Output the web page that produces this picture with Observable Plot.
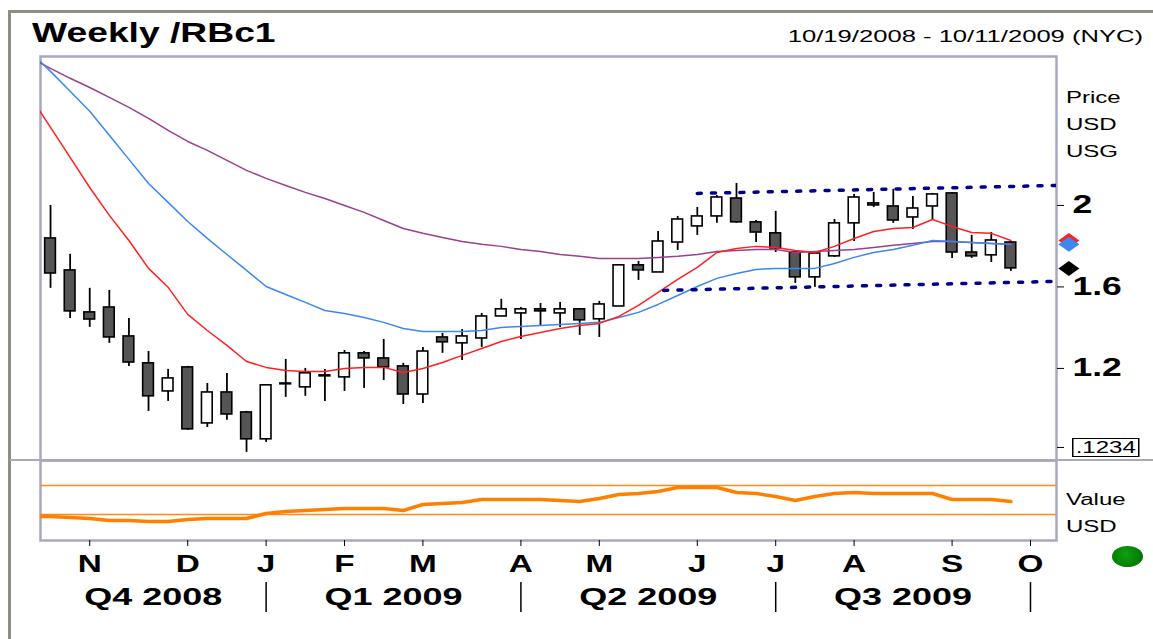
<!DOCTYPE html>
<html><head><meta charset="utf-8">
<script src="https://cdn.jsdelivr.net/npm/d3@7"></script>
<script src="https://cdn.jsdelivr.net/npm/@observablehq/plot@0.6"></script>
<style>
body{margin:0;background:#fff;font-family:"Liberation Sans",Arial,sans-serif;}
#wrap{position:relative;width:1153px;height:639px;overflow:hidden;background:#fff;}
.abs{position:absolute;white-space:nowrap;}
.ln{position:absolute;}
</style></head><body><div id="wrap"></div>
<script>
// ---------------- data ----------------
const weeks = ["2008-10-19","2008-10-26","2008-11-02","2008-11-09","2008-11-16","2008-11-23","2008-11-30",
"2008-12-07","2008-12-14","2008-12-21","2008-12-28","2009-01-04","2009-01-11","2009-01-18","2009-01-25",
"2009-02-01","2009-02-08","2009-02-15","2009-02-22","2009-03-01","2009-03-08","2009-03-15","2009-03-22","2009-03-29",
"2009-04-05","2009-04-12","2009-04-19","2009-04-26","2009-05-03","2009-05-10","2009-05-17","2009-05-24","2009-05-31",
"2009-06-07","2009-06-14","2009-06-21","2009-06-28","2009-07-05","2009-07-12","2009-07-19","2009-07-26",
"2009-08-02","2009-08-09","2009-08-16","2009-08-23","2009-08-30","2009-09-06","2009-09-13","2009-09-20","2009-09-27"];
const open  = [1.838,1.681,1.475,1.499,1.357,1.225,1.087,1.205,0.930,1.082,0.984,0.852,1.126,1.107,1.166,1.156,1.274,1.249,1.210,1.072,
1.352,1.323,1.347,1.455,1.470,1.490,1.470,1.490,1.441,1.504,1.706,1.671,1.818,1.897,1.946,2.034,1.917,1.863,1.769,1.647,
1.750,1.912,2.010,1.995,1.941,1.995,2.059,1.769,1.755,1.818];
const high  = [2.000,1.760,1.593,1.583,1.445,1.283,1.195,1.210,1.126,1.175,0.989,1.117,1.244,1.200,1.195,1.288,1.283,1.342,1.225,1.303,
1.372,1.391,1.470,1.539,1.499,1.519,1.524,1.490,1.529,1.706,1.725,1.872,1.946,1.990,2.049,2.108,1.926,1.971,1.774,1.764,
1.931,2.054,2.064,2.079,2.044,2.059,2.064,1.853,1.867,1.823];
const low   = [1.593,1.445,1.401,1.323,1.210,0.989,1.038,0.896,0.910,0.945,0.788,0.837,1.058,1.063,1.038,1.087,1.102,1.141,1.023,1.028,
1.274,1.239,1.303,1.455,1.342,1.406,1.401,1.362,1.352,1.504,1.632,1.671,1.779,1.853,1.912,1.912,1.818,1.769,1.617,1.598,
1.745,1.823,1.990,1.912,1.882,1.926,1.740,1.740,1.720,1.676];
const close = [1.666,1.480,1.440,1.352,1.229,1.063,1.151,0.901,1.082,0.974,0.852,1.117,1.122,1.176,1.161,1.274,1.249,1.205,1.072,1.283,
1.328,1.357,1.455,1.490,1.490,1.480,1.490,1.436,1.514,1.706,1.681,1.823,1.931,1.946,2.039,1.917,1.867,1.789,1.647,1.764,
1.912,2.039,2.000,1.926,1.985,2.054,1.769,1.750,1.828,1.691];

// moving averages (first point = week before the window)
const maDates = ["2008-10-12", ...weeks];
const maShort = [2.530,2.383,2.236,2.088,1.951,1.828,1.691,1.598,1.465,1.386,1.313,1.234,1.205,1.190,1.185,1.185,1.200,1.205,1.205,1.180,
1.200,1.229,1.264,1.298,1.332,1.357,1.376,1.396,1.411,1.421,1.455,1.509,1.573,1.637,1.696,1.769,1.789,1.799,1.794,1.779,
1.769,1.799,1.838,1.872,1.887,1.892,1.931,1.897,1.867,1.863,1.828];
const maMid = [2.751,2.658,2.560,2.462,2.344,2.226,2.108,2.015,1.921,1.838,1.759,1.681,1.602,1.563,1.524,1.484,1.470,1.450,1.426,1.396,
1.381,1.381,1.381,1.386,1.401,1.406,1.411,1.416,1.421,1.426,1.450,1.475,1.514,1.558,1.602,1.642,1.666,1.686,1.691,1.691,
1.691,1.715,1.745,1.769,1.784,1.804,1.828,1.823,1.818,1.813,1.809];
const maLong = [2.722,2.673,2.624,2.579,2.530,2.481,2.427,2.368,2.314,2.270,2.221,2.172,2.133,2.098,2.064,2.034,2.000,1.966,1.926,1.887,
1.863,1.843,1.823,1.809,1.799,1.784,1.774,1.759,1.750,1.740,1.740,1.740,1.745,1.750,1.759,1.774,1.779,1.784,1.784,1.769,
1.774,1.779,1.784,1.794,1.804,1.813,1.823,1.823,1.818,1.813,1.809];

// channel lines
const upperDates = ["2009-06-07","2009-10-13"], upperVals = [2.059, 2.098];
const lowerDates = ["2009-05-26","2009-10-13"], lowerVals = [1.583, 1.627];

// lower indicator panel
const indicator = [24,24,23,22,20,20,19,19,21,22,22,22,27,29,30,31,32,32,32,30,36,37,38,41,41,41,41,40,39,42,46,
47,49,53,53,53,48,47,44,40,44,47,48,47,47,47,47,41,41,41,39];
const indicatorBands = [55, 26];

// axes
const yTicks = [2, 1.6, 1.2];
const lastQuoteTick = 0.812;
const monthTicks = ["2008-11-02","2008-12-07","2009-01-04","2009-02-01","2009-03-01","2009-04-05","2009-05-03",
"2009-06-07","2009-07-05","2009-08-02","2009-09-06","2009-10-04"];
const quarterBounds = ["2009-01-04","2009-04-05","2009-07-05","2009-10-04"];
const quarterLabels = ["Q4 2008","Q1 2009","Q2 2009","Q3 2009"];

// ---------------- build ----------------
const P = d3.utcParse("%Y-%m-%d");
const xDomain = [new Date(Date.UTC(2008,9,15,10)), new Date(Date.UTC(2009,9,13,7))];
const FONT = "Liberation Sans, Arial, sans-serif";
const candles = weeks.map((w,i)=>({date:P(w), open:open[i], high:high[i], low:low[i], close:close[i]}));
const series = (ys)=> maDates.map((d,i)=>({date:P(d), v:ys[i]}));
const lastDate = P(weeks[weeks.length-1]);
const flatDiamond = {draw(ctx,size){const r=Math.sqrt(size/Math.PI);const w=r*1.4,h=r;
  ctx.moveTo(0,-h);ctx.lineTo(w,0);ctx.lineTo(0,h);ctx.lineTo(-w,0);ctx.closePath();}};
const markers = [{v:maShort[maShort.length-1], c:"#ff2020"},{v:maMid[maMid.length-1], c:"#3c87f0"},{v:close[close.length-1], c:"#000000"}];
const frameColor = "#a8a8c0";

function stretch(svg, sel, k, size, weight){
  d3.select(svg).selectAll(sel).each(function(){
    if(size) this.setAttribute("font-size", size);
    if(weight) this.setAttribute("font-weight", weight);
  });
  d3.select(svg).selectAll(sel+" text").each(function(){
    const t=this.getAttribute("transform");
    if(t) this.setAttribute("transform", t+` scale(${k},1)`);
  });
}

const main = Plot.plot({
  width:1153, height:460, marginTop:56, marginBottom:0, marginLeft:40, marginRight:97,
  x:{type:"utc", domain:xDomain, axis:null},
  y:{domain:[0.748,2.731]},
  color:{type:"identity"},
  style:{fontFamily:FONT, background:"transparent", overflow:"visible"},
  marks:[
    Plot.frame({stroke:frameColor, strokeWidth:2.5}),
    Plot.ruleX(candles,{x:"date", y1:"low", y2:"high", stroke:"#000", strokeWidth:1.8}),
    Plot.rect(candles,{x1:d=>d3.utcHour.offset(d.date,-46), x2:d=>d3.utcHour.offset(d.date,46),
      y1:"open", y2:"close", fill:d=>d.close>=d.open?"#ffffff":"#555555", stroke:"#000", strokeWidth:1.6}),
    Plot.line(series(maLong),{x:"date", y:"v", stroke:"#9c3f8c", strokeWidth:1.5, clip:true}),
    Plot.line(series(maMid),{x:"date", y:"v", stroke:"#3c87f0", strokeWidth:1.5, clip:true}),
    Plot.line(series(maShort),{x:"date", y:"v", stroke:"#ff2020", strokeWidth:1.5, clip:true}),
    Plot.line(upperDates.map((d,i)=>({date:P(d), v:upperVals[i]})),{x:"date", y:"v", stroke:"#00008c", strokeWidth:3.5, strokeDasharray:"4 10.2", clip:true}),
    Plot.line(lowerDates.map((d,i)=>({date:P(d), v:lowerVals[i]})),{x:"date", y:"v", stroke:"#00008c", strokeWidth:3.5, strokeDasharray:"4 10.2", clip:true}),
    Plot.dot(markers,{x:()=>lastDate, y:"v", fill:"c", symbol:flatDiamond, r:7.5, dx:58}),
    Plot.axisY([...yTicks, lastQuoteTick],{anchor:"right", tickSize:7, tickPadding:9,
      tickFormat:d=>yTicks.includes(d)?String(d):"", label:null})
  ]
});
stretch(main, 'g[aria-label="y-axis tick label"]', 1.42, 25, "bold");

const lower = Plot.plot({
  width:1153, height:120, marginTop:0, marginBottom:40, marginLeft:40, marginRight:97,
  x:{type:"utc", domain:xDomain},
  y:{domain:[0,80], axis:null},
  style:{fontFamily:FONT, background:"transparent", overflow:"visible"},
  marks:[
    Plot.frame({stroke:frameColor, strokeWidth:2.5}),
    Plot.ruleY(indicatorBands,{stroke:"#ff8c1a", strokeWidth:1.5}),
    Plot.line(maDates.map((d,i)=>({date:P(d), v:indicator[i]})),{x:"date", y:"v", stroke:"#ff8000", strokeWidth:3.5, clip:true}),
    Plot.axisX(monthTicks.map(P),{tickSize:6, tickPadding:9, tickFormat:d=>d3.utcFormat("%b")(d)[0], label:null})
  ]
});
stretch(lower, 'g[aria-label="x-axis tick label"]', 1.45, 23, "bold");

const qb = quarterBounds.map(P);
const qStarts = [xDomain[0], ...qb.slice(0,-1)];
const qData = quarterLabels.map((t,i)=>({t, date:new Date((+qStarts[i] + +qb[i])/2)}));
const quarters = Plot.plot({
  width:1153, height:60, marginTop:4, marginBottom:26, marginLeft:40, marginRight:97,
  x:{type:"utc", domain:xDomain, axis:null},
  style:{fontFamily:FONT, background:"transparent", overflow:"visible"},
  marks:[
    Plot.ruleX(qb,{stroke:"#000", strokeWidth:1.5}),
    Plot.text(qData,{x:"date", text:"t", frameAnchor:"middle", fill:"#000"})
  ]
});
stretch(quarters, 'g[aria-label="text"]', 1.5, 24, "bold");

const wrap = document.getElementById("wrap");
function place(el, top){ const d=document.createElement("div"); d.className="ln"; d.style.left="0px"; d.style.top=top+"px"; d.appendChild(el); wrap.appendChild(d); }
place(main, 0); place(lower, 460); place(quarters, 578);

function addDiv(css, html){ const d=document.createElement("div"); d.className="abs"; d.style.cssText=css; if(html!=null) d.textContent=html; wrap.appendChild(d); return d; }
// decorative borders
addDiv("left:8px;top:10px;width:1145px;height:3px;background:#8e8e82;");
addDiv("left:8px;top:10px;width:3px;height:629px;background:#8e8e82;");
addDiv("left:10px;top:459px;width:1143px;height:2px;background:"+frameColor+";");
// texts
addDiv("left:32px;top:19px;font-size:28px;line-height:28px;font-weight:bold;transform:scaleX(1.33);transform-origin:0 0;", "Weekly /RBc1");
addDiv("right:10px;top:29px;font-size:16px;line-height:16px;transform:scaleX(1.6);transform-origin:100% 0;", "10/19/2008 - 10/11/2009 (NYC)");
["Price","USD","USG"].forEach((t,i)=>addDiv(`left:1066px;top:${89.5+27*i}px;font-size:16px;line-height:16px;transform:scaleX(1.5);transform-origin:0 0;`, t));
["Value","USD"].forEach((t,i)=>addDiv(`left:1066px;top:${491.5+27*i}px;font-size:16px;line-height:16px;transform:scaleX(1.5);transform-origin:0 0;`, t));
addDiv("left:1072px;top:438px;width:43px;height:17px;border:1.3px solid #000;font-size:16px;line-height:17px;text-align:center;transform:scaleX(1.5);transform-origin:0 0;background:#fff;", ".1234");
addDiv("left:1112px;top:546px;width:31px;height:21px;border-radius:50%;background:radial-gradient(circle at 45% 40%, #10a010, #006a00);");
</script></body></html>
